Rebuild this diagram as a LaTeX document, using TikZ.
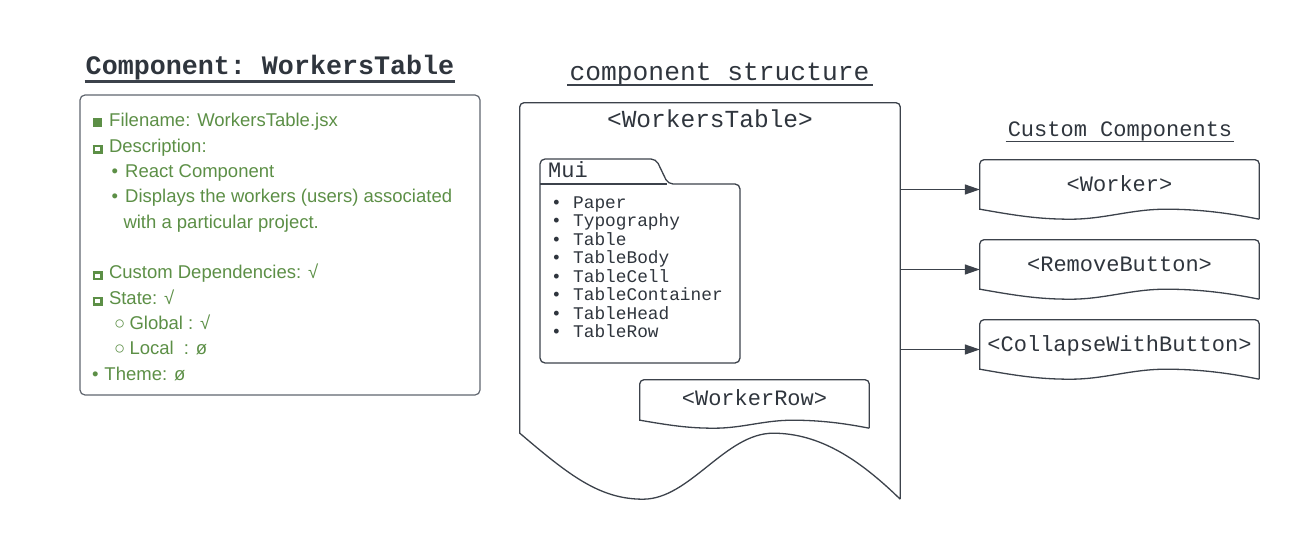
\documentclass[tikz,border=0pt]{standalone}
\usepackage{fontspec}
\setmainfont{Liberation Sans}
\setmonofont{Liberation Mono}
\usetikzlibrary{positioning,arrows.meta,calc}

\definecolor{ink}{HTML}{3C424B}
\definecolor{inktext}{HTML}{2F353D}
\definecolor{leaf}{RGB}{92,143,70}
\definecolor{frame}{HTML}{5F656E}

\newcommand\hollowsq{\raisebox{0.8pt}{\setlength\fboxrule{2.4pt}\setlength\fboxsep{0pt}\fbox{\rule{0pt}{4.2pt}\rule{5.2pt}{0pt}}}}
\newcommand\fullsq{\rule{9pt}{9pt}}
\newcommand\bul[2]{\makebox[#1][l]{#2}}

% wavy-bottom document outline, drawn round a node
\newcommand\docoutline[2]{%
  \draw[outl] (#1.south east) [rounded corners=4pt] -- (#1.north east) -- (#1.north west)
    [sharp corners] -- ($(#1.south west)+(0,{-#2})$)
    .. controls ($(#1.south west)!0.13!(#1.south east)+(0,{-0.36*#2})$)
       and ($(#1.south west)!0.21!(#1.south east)$) .. ($(#1.south west)!0.324!(#1.south east)$)
    .. controls ($(#1.south west)!0.447!(#1.south east)$)
       and ($(#1.south west)!0.54!(#1.south east)+(0,{-#2})$) .. ($(#1.south west)!0.666!(#1.south east)+(0,{-#2})$)
    .. controls ($(#1.south west)!0.79!(#1.south east)+(0,{-#2})$)
       and ($(#1.south west)!0.895!(#1.south east)+(0,{-0.59*#2})$) .. (#1.south east);%
}

\begin{document}
\begin{tikzpicture}[
  x=1pt, y=-1pt,
  outl/.style={draw=ink, line width=1.3pt},
  conn/.style={draw=ink, line width=1.3pt, -{Triangle[length=15pt,width=10pt]}},
  mono/.style={font=\ttfamily\fontsize{22}{24}\selectfont, text=inktext, inner sep=0pt},
  note/.style={font=\fontsize{18.5}{22}\selectfont, text=leaf, inner sep=0pt, anchor=base west},
  comp/.style={mono, minimum width=279, minimum height=59, text height=15pt, text depth=12pt},
  muiitem/.style={font=\ttfamily\fontsize{17.8}{20}\selectfont, text=inktext, inner sep=0pt, anchor=base west},
  head/.style={inner sep=0pt, anchor=base, text=inktext}
]
\useasboundingbox (0,0) rectangle (1300,540);

% left: component card
\node[head, font=\ttfamily\bfseries\fontsize{26.7}{28}\selectfont] (title) at (270,75) {Component: WorkersTable};
\draw[ink, line width=3pt] ($(title.base west)+(-1,6.7)$) -- ($(title.base east)+(1,6.7)$);
\node[draw=frame, line width=1.2pt, rounded corners=5pt, minimum width=400, minimum height=300] (card) at (280,245) {};

\node[note] (fname) at (93,126.7) {\fullsq\hspace{7pt}Filename: WorkersTable.jsx};
\node[note] (desc) at (92.3,152.05) {\hollowsq\hspace{6.5pt}Description:};
\node[note] (react) at (111.5,177.4) {\bul{13.5pt}{•}React Component};
\node[note] (disp) at (111.5,202.75) {\bul{13.5pt}{•}Displays the workers (users) associated};
\node[note] (with) at (123.3,228.1) {with a particular project.};
\node[note] (deps) at (92.3,278.8) {\hollowsq\hspace{6.5pt}Custom Dependencies: √};
\node[note] (state) at (92.3,304.15) {\hollowsq\hspace{6.5pt}State: √};
\node[note] (global) at (114,329.5) {\bul{15.3pt}{○}Global : √};
\node[note] (local) at (114,354.85) {\bul{15.3pt}{○}Local\ \ : ø};
\node[note] (theme) at (92,380.2) {\bul{12.3pt}{•}Theme: ø};

% middle: component structure
\node[head, font=\ttfamily\fontsize{26.3}{28}\selectfont] (cstruct) at (719.5,80.7) {component structure};
\draw[ink, line width=1.5pt] ($(cstruct.base west)+(-2,4.5)$) -- ($(cstruct.base east)+(3,4.5)$);

\node[minimum width=380, minimum height=396, inner sep=0pt] (wt) at (710,301) {};
\docoutline{wt}{66}
\node[head, font=\ttfamily\fontsize{24.5}{26}\selectfont] (wtlabel) at (710,128) {<WorkersTable>};

% Mui folder
\draw[outl, rounded corners=5pt] (540,184) -- (540,159) -- (656,159) -- (668,184) -- (740,184) -- (740,363) -- (540,363) -- cycle;
\draw[outl] (540,184) -- (667,184);
\node[mono, anchor=base west] (muilabel) at (548,177.3) {Mui};
\foreach \part [count=\i] in {Paper,Typography,Table,TableBody,TableCell,TableContainer,TableHead,TableRow}
  \node[muiitem] (mui-\i) at (551,{208.3+18.5*(\i-1)}) {\bul{22pt}{•}\part};

\node[comp, minimum width=229, minimum height=48] (workerrow) at (754.5,404) {<WorkerRow>};
\docoutline{workerrow}{8}

% right: custom components
\node[head, font=\ttfamily\fontsize{22}{24}\selectfont] (custom) at (1120,136.7) {Custom Components};
\draw[ink, line width=1.5pt] ($(custom.base west)+(-2,5)$) -- ($(custom.base east)+(2,5)$);

\node[comp] (worker) at (1119.5,189.5) {<Worker>};
\node[comp] (remove) at (1119.5,269.5) {<RemoveButton>};
\node[comp] (collapse) at (1119.5,349.5) {<CollapseWithButton>};
\foreach \c in {worker,remove,collapse} {
  \docoutline{\c}{10}
  \draw[conn] (wt.east |- \c.west) -- (\c.west);
}
\end{tikzpicture}
\end{document}
